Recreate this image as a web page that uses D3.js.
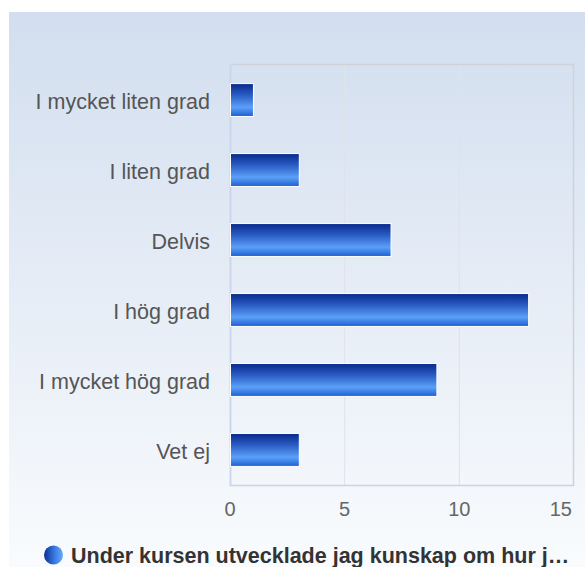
<!DOCTYPE html>
<html>
<head>
<meta charset="utf-8">
<script src="https://cdn.jsdelivr.net/npm/d3@7"></script>
<style>
  body { margin: 0; background: #fff; }
  svg { display: block; font-family: "Liberation Sans", Arial, sans-serif; }
</style>
</head>
<body>
<div id="chart"></div>
<script>
var categories = ['I mycket liten grad', 'I liten grad', 'Delvis', 'I hög grad', 'I mycket hög grad', 'Vet ej'];
var values = [1, 3, 7, 13, 9, 3];
var xTicks = [0, 5, 10, 15];
var seriesName = 'Under kursen utvecklade jag kunskap om hur j…';

var W = 585, H = 567;
var margin = {top: 64, right: 11, bottom: 81, left: 230};
var width = W - margin.left - margin.right,
    height = H - margin.top - margin.bottom;

var svg = d3.select('#chart').append('svg')
    .attr('width', W)
    .attr('height', H);

var defs = svg.append('defs');

// background panel gradient
var bg = defs.append('linearGradient').attr('id', 'bgGrad')
    .attr('x1', 0).attr('y1', 0).attr('x2', 0).attr('y2', 1);
bg.append('stop').attr('offset', '0%').attr('stop-color', '#d2deef');
bg.append('stop').attr('offset', '100%').attr('stop-color', '#f9fbfd');

// bar gradient
var bar = defs.append('linearGradient').attr('id', 'barGrad')
    .attr('x1', 0).attr('y1', 0).attr('x2', 0).attr('y2', 1);
bar.append('stop').attr('offset', '0%').attr('stop-color', '#08288a');
bar.append('stop').attr('offset', '35%').attr('stop-color', '#2a5cc4');
bar.append('stop').attr('offset', '72%').attr('stop-color', '#5aa0f8');
bar.append('stop').attr('offset', '100%').attr('stop-color', '#1d5ed0');

var dot = defs.append('linearGradient').attr('id', 'dotGrad')
    .attr('x1', 0).attr('y1', 0).attr('x2', 1).attr('y2', 0);
dot.append('stop').attr('offset', '0%').attr('stop-color', '#0c2f96');
dot.append('stop').attr('offset', '60%').attr('stop-color', '#3c7fe6');
dot.append('stop').attr('offset', '100%').attr('stop-color', '#6aaaf8');

svg.append('rect')
    .attr('x', 9).attr('y', 12)
    .attr('width', W - 9).attr('height', H - 12)
    .attr('fill', 'url(#bgGrad)');

var g = svg.append('g')
    .attr('transform', 'translate(' + margin.left + ',' + margin.top + ')');

var x = d3.scaleLinear().domain([0, 15]).range([0, width]);
var y = d3.scaleBand().domain(categories).range([0, height]).paddingInner(0.53).paddingOuter(0.28);

// grid lines
g.selectAll('.grid')
    .data(xTicks.slice(1, -1))
    .enter().append('line')
    .attr('x1', function(d) { return x(d); })
    .attr('x2', function(d) { return x(d); })
    .attr('y1', 0).attr('y2', height)
    .attr('stroke', '#dfe2e8').attr('stroke-width', 1);

// plot border
g.append('rect')
    .attr('x', 0.5).attr('y', 0.5)
    .attr('width', width - 1).attr('height', height - 1)
    .attr('fill', 'none')
    .attr('stroke', '#cfd2d8').attr('stroke-width', 1.5);
g.append('line')
    .attr('x1', 0.5).attr('x2', 0.5).attr('y1', 0).attr('y2', height)
    .attr('stroke', '#c9d6ec').attr('stroke-width', 1.5);

// bars
g.selectAll('.bar')
    .data(values)
    .enter().append('rect')
    .attr('class', 'bar')
    .attr('x', x(0) + 0.5)
    .attr('y', function(d, i) { return y(categories[i]); })
    .attr('width', function(d) { return x(d) - x(0); })
    .attr('height', y.bandwidth())
    .attr('fill', 'url(#barGrad)')
    .attr('stroke', '#ffffff')
    .attr('stroke-width', 1);

// category labels
g.selectAll('.cat')
    .data(categories)
    .enter().append('text')
    .attr('x', -20)
    .attr('y', function(d) { return y(d) + y.bandwidth() / 2; })
    .attr('dy', '0.4em')
    .attr('text-anchor', 'end')
    .style('font-size', '21.5px')
    .style('fill', '#555555')
    .text(function(d) { return d; });

// x tick labels
g.selectAll('.tick')
    .data(xTicks)
    .enter().append('text')
    .attr('x', function(d, i) { return i === xTicks.length - 1 ? x(d) - 2 : x(d); })
    .attr('y', height + 30)
    .attr('text-anchor', function(d, i) { return i === xTicks.length - 1 ? 'end' : 'middle'; })
    .style('font-size', '20px')
    .style('fill', '#666666')
    .text(function(d) { return d; });

// legend
svg.append('circle')
    .attr('cx', 53.5).attr('cy', 555).attr('r', 9.5)
    .attr('fill', 'url(#dotGrad)');
svg.append('text')
    .attr('x', 71).attr('y', 563)
    .style('font-size', '21.5px')
    .style('font-weight', 'bold')
    .style('fill', '#333333')
    .text(seriesName);
</script>
</body>
</html>
